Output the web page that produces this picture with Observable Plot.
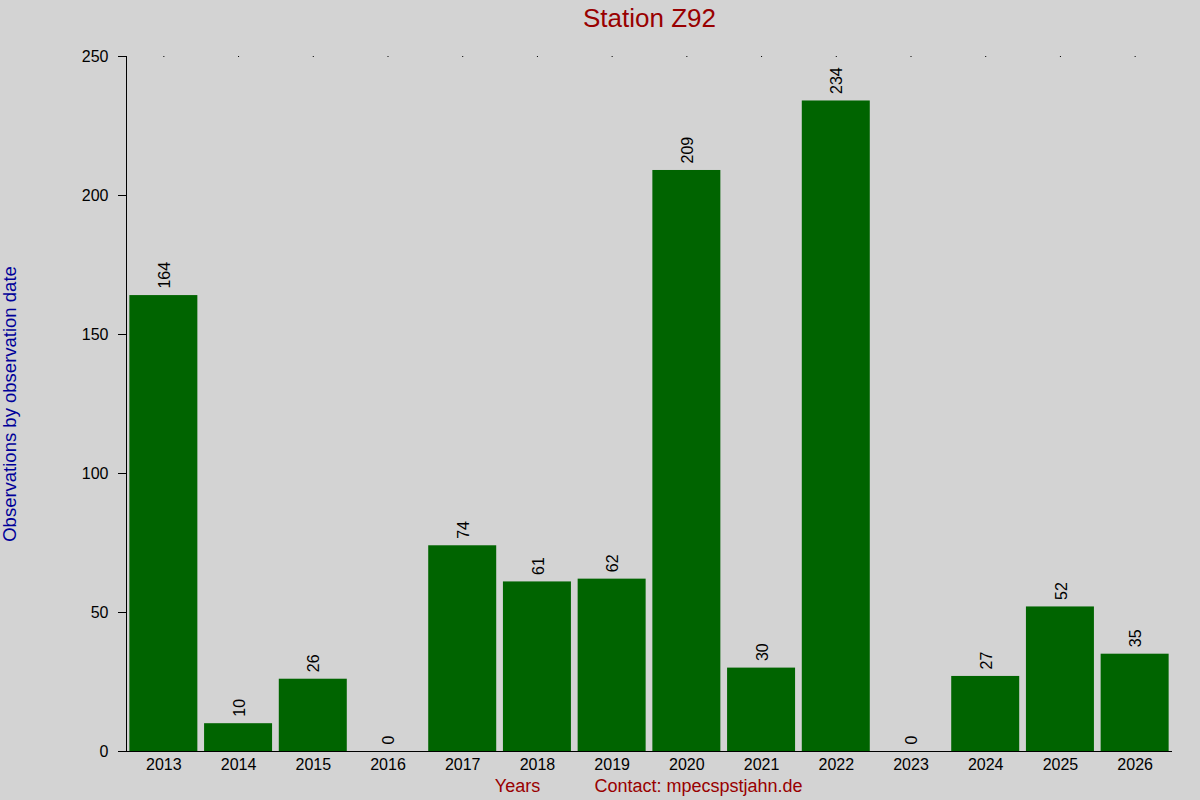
<!DOCTYPE html>
<html><head><meta charset="utf-8">
<script src="https://cdn.jsdelivr.net/npm/d3@7"></script>
<script src="https://cdn.jsdelivr.net/npm/@observablehq/plot@0.6"></script>
<style>
html,body{margin:0;padding:0;background:#d3d3d3;}
svg{font-family:"Liberation Sans",Arial,sans-serif;}
</style></head>
<body><div id="chart"></div>
<script>
const years = ["2013","2014","2015","2016","2017","2018","2019","2020","2021","2022","2023","2024","2025","2026"];
const counts = [164,10,26,0,74,61,62,209,30,234,0,27,52,35];
const yTicks = [0,50,100,150,200,250];
const title = "Station Z92";
const yLabel = "Observations by observation date";
const xLabel = "Years";
const contact = "Contact: mpecspstjahn.de";

const data = years.map((y,i)=>({year:y, value:counts[i]}));

const chart = Plot.plot({
  width:1200, height:800,
  marginLeft:126, marginRight:28, marginTop:56, marginBottom:49,
  style:{background:"#d3d3d3", fontFamily:"Liberation Sans, Arial, sans-serif", fontSize:"16px", color:"#000"},
  x:{domain:years, paddingInner:0.09, paddingOuter:0.045, round:false, label:null},
  y:{domain:[0,250], label:null},
  marks:[
    Plot.barY(data,{x:"year", y:"value", fill:"#006400"}),
    Plot.axisY({ticks:yTicks, tickSize:8, tickPadding:10, fontSize:16, label:null}),
    Plot.axisX({tickSize:0, tickPadding:7, fontSize:16, label:null}),
    Plot.axisX({anchor:"top", tickSize:1, tickFormat:()=>"", label:null}),
    Plot.ruleY([0],{stroke:"#000"}),
    Plot.text(data,{x:"year", y:"value", text:d=>String(d.value), rotate:-90, textAnchor:"start", dx:1, dy:-7, fontSize:16, fill:"#000"}),
    Plot.text([title],{frameAnchor:"top", lineAnchor:"middle", dy:-38, fontSize:26, fill:"#990000"}),
    Plot.text([yLabel],{frameAnchor:"left", textAnchor:"middle", dx:-116, rotate:-90, fontSize:18.5, fill:"#000099"}),
    Plot.text([xLabel],{frameAnchor:"bottom", lineAnchor:"middle", dx:517-649, dy:35, fontSize:18, fill:"#990000"}),
    Plot.text([contact],{frameAnchor:"bottom", lineAnchor:"middle", dx:698-649, dy:35, fontSize:18, fill:"#990000"})
  ]
});
document.getElementById("chart").appendChild(chart);
const svg = d3.select(chart);
svg.append("line").attr("x1",126.5).attr("x2",126.5).attr("y1",56).attr("y2",751).attr("stroke","#000");
</script></body></html>
